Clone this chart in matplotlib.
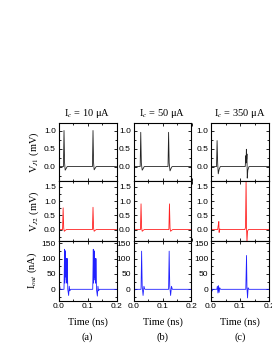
import matplotlib
matplotlib.use('Agg')
import matplotlib.pyplot as plt
from matplotlib.ticker import MultipleLocator

# currents for the three columns
titles = ['I$_c$ = 10 μA', 'I$_c$ = 50 μA', 'I$_c$ = 350 μA']
panel_tags = ['(a)', '(b)', '(c)']

# V_J1 (mV), row 1
t_vj1_a = [0, 0.017, 0.019, 0.021, 0.023, 0.026, 0.030, 0.117, 0.119, 0.121, 0.123, 0.126, 0.130, 0.2]
vj1_a = [0, 0, 1.0, 0.1, -0.1, -0.06, 0, 0, 1.0, 0.1, -0.09, -0.05, 0, 0]
t_vj1_b = [0, 0.023, 0.025, 0.027, 0.030, 0.033, 0.037, 0.119, 0.121, 0.123, 0.126, 0.129, 0.133, 0.2]
vj1_b = [0, 0, 0.95, 0.1, -0.1, -0.06, 0, 0, 0.95, 0.1, -0.12, -0.06, 0, 0]
t_vj1_c = [0, 0.019, 0.021, 0.023, 0.025, 0.028, 0.032, 0.118, 0.120, 0.121, 0.122, 0.123, 0.124, 0.125, 0.127, 0.131, 0.2]
vj1_c = [0, 0, 0.72, 0.1, -0.2, -0.08, 0, 0, 0.3, 0.1, 0.48, 0.2, 0.35, -0.32, -0.1, 0, 0]

# V_J2 (mV), row 2
t_vj2_a = [0, 0.014, 0.016, 0.018, 0.020, 0.023, 0.027, 0.117, 0.119, 0.121, 0.123, 0.126, 0.130, 0.2]
vj2_a = [0, 0, 0.76, 0.05, -0.06, -0.03, 0, 0, 0.78, 0.05, -0.06, -0.03, 0, 0]
t_vj2_b = [0, 0.024, 0.026, 0.028, 0.030, 0.033, 0.037, 0.122, 0.124, 0.126, 0.128, 0.131, 0.135, 0.2]
vj2_b = [0, 0, 0.9, 0.05, -0.06, -0.03, 0, 0, 0.9, 0.05, -0.06, -0.03, 0, 0]
t_vj2_c = [0, 0.023, 0.025, 0.027, 0.028, 0.030, 0.033, 0.117, 0.119, 0.121, 0.1225, 0.124, 0.126, 0.129, 0.2]
vj2_c = [0, 0, 0.15, 0.28, -0.1, 0.02, 0, 0, 0.08, 1.75, 0.1, -0.45, -0.05, 0, 0]

# I_out (nA), row 3
t_iout_a = [0, 0.001, 0.002, 0.003, 0.004, 0.006, 0.019, 0.021, 0.022, 0.024, 0.025, 0.026, 0.027, 0.028, 0.029,
	0.030, 0.032, 0.035, 0.037, 0.039, 0.042, 0.118, 0.120, 0.121, 0.123, 0.124, 0.125, 0.126, 0.127, 0.128,
	0.129, 0.131, 0.134, 0.136, 0.138, 0.141, 0.2]
iout_a = [40, -20, 30, -15, 10, 0, 0, 130, 20, 125, 40, 100, 30, 100, 20,
	100, 0, -20, 10, -5, 0, 0, 130, 20, 125, 40, 100, 30, 100, 20,
	100, 0, -22, 10, -5, 0, 0]
t_iout_b = [0, 0.001, 0.002, 0.003, 0.005, 0.026, 0.028, 0.030, 0.033, 0.036, 0.039, 0.121, 0.123, 0.125,
	0.128, 0.131, 0.134, 0.2]
iout_b = [30, -15, 20, -8, 0, 0, 124, 10, -20, 10, 0, 0, 124, 10, -20, 10, 0, 0]
t_iout_c = [0, 0.001, 0.002, 0.003, 0.005, 0.020, 0.022, 0.024, 0.026, 0.028, 0.030, 0.033, 0.120, 0.1225,
	0.124, 0.126, 0.128, 0.131, 0.2]
iout_c = [12, -14, 10, -6, 0, 0, 10, -12, 12, -10, 5, 0, 0, 110, 5, -28, 5, 0, 0]

rows = [
	([(t_vj1_a, vj1_a), (t_vj1_b, vj1_b), (t_vj1_c, vj1_c)], '#222222', 'V$_{J1}$ (mV)', (-0.4, 1.2), 0.5, 0.25),
	([(t_vj2_a, vj2_a), (t_vj2_b, vj2_b), (t_vj2_c, vj2_c)], '#ff2020', 'V$_{J2}$ (mV)', (-0.4, 1.7), 0.5, 0.25),
	([(t_iout_a, iout_a), (t_iout_b, iout_b), (t_iout_c, iout_c)], '#2020ff', 'I$_{out}$ (nA)', (-37, 157), 50, 25),
]

plt.rcParams['mathtext.fontset'] = 'stix'
serif = 'Liberation Serif'
sans = 'Liberation Sans'

W, H = 272, 352
fig = plt.figure(figsize=(W / 100, H / 100), dpi=100)

# pixel positions of the panel grid
col_left = [58.5, 133.5, 211]
col_width = 58
row_edges = [123.3, 181, 241, 300.7]

for r, (series, color, ylabel, ylim, major, minor) in enumerate(rows):
	top = row_edges[r]
	bottom = row_edges[r + 1]
	for c in range(3):
		ax = fig.add_axes([col_left[c] / W, 1 - bottom / H, col_width / W, (bottom - top) / H])
		t, v = series[c]
		ax.plot(t, v, color=color, lw=0.6)
		ax.set_xlim(0, 0.2)
		ax.set_ylim(*ylim)
		ax.xaxis.set_major_locator(MultipleLocator(0.1))
		ax.xaxis.set_minor_locator(MultipleLocator(0.05))
		ax.yaxis.set_major_locator(MultipleLocator(major))
		ax.yaxis.set_minor_locator(MultipleLocator(minor))
		ax.tick_params(which='both', direction='in', top=True, right=True, width=0.6)
		ax.tick_params(which='major', length=2.5, labelsize=6, pad=2)
		ax.tick_params(which='minor', length=1.5)
		for lab in ax.get_xticklabels() + ax.get_yticklabels():
			lab.set_fontfamily(sans)
		for s in ax.spines.values():
			s.set_linewidth(0.8)
		if r < 2:
			ax.set_xticklabels([])
		else:
			ax.set_xticks([0, 0.1, 0.2])
			ax.set_xticklabels(['0.0', '0.1', '0.2'], fontfamily=sans)
			ax.set_xlabel('Time (ns)', fontfamily=serif, fontsize=7.5, labelpad=5)
		if r == 0:
			ax.set_title(titles[c], fontfamily=serif, fontsize=7.5, pad=5)
			ax.set_yticks([0, 0.5, 1.0])
		if c == 0:
			ax.set_ylabel(ylabel, fontfamily=serif, fontsize=7.5, labelpad=2)

for c in range(3):
	fig.text((col_left[c] + col_width / 2) / W, 1 - 337 / H, panel_tags[c], ha='center', va='center',
		fontfamily=serif, fontsize=7.5)

fig.savefig('out.png', dpi=100)
